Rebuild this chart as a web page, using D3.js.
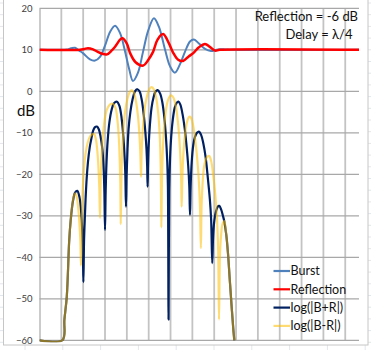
<!DOCTYPE html>
<html><head><meta charset="utf-8">
<script src="https://cdn.jsdelivr.net/npm/d3@7"></script>
<style>html,body{margin:0;padding:0;background:#fff;overflow:hidden;} svg{display:block;}</style>
</head><body>
<script>
// ---- data (x in grid units, y in dB) ----
const yTickValues = [20, 10, 0, -10, -20, -30, -40, -50, -60];
const xGridValues = [0,1,2,3,4,5,6,7,8,9,10,11,12,13,14];
const seriesNames = ["Burst", "Reflection", "log(|B+R|)", "log(|B-R|)"];
const noteLines = ["Reflection = -6 dB", "Delay = \u03bb/4"];

const burst = [[0,10],[1.10,10],[1.26,10.05],[1.45,10.35],[1.63,10.5],[1.82,9.8],[1.99,9.2],[2.31,7.7],[2.54,7.4],[2.77,8.3],[3.00,11.0],[3.23,14.3],[3.46,15.8],[3.69,14.0],[3.91,9.8],[4.10,5.5],[4.28,2.5],[4.51,4.5],[4.74,9.5],[4.97,14.5],[5.24,17.6],[5.47,15.5],[5.75,10],[5.98,6],[6.20,4.5],[6.43,6.5],[6.66,9.5],[6.89,12],[7.07,12.5],[7.30,11.5],[7.58,10.2],[7.85,9.7],[8.17,10.1],[8.49,10.1],[8.81,10],[14.63,10]];

const reflection = [[0,10],[1.85,10],[2.05,10.2],[2.22,10.4],[2.45,10.1],[2.63,9.6],[2.90,9.0],[3.09,8.9],[3.30,9.8],[3.46,10.75],[3.70,12.5],[3.80,12.8],[4.00,11.5],[4.15,9.2],[4.40,7.0],[4.75,6.2],[4.97,7.5],[5.20,9.5],[5.40,12.4],[5.66,13.8],[5.92,11.6],[6.11,9.4],[6.35,7.6],[6.57,7.3],[6.83,8.4],[7.04,9.2],[7.30,10.6],[7.58,11.4],[7.80,10.7],[8.04,9.8],[8.26,10],[14.63,10]];

const bPlusR = [[0,-60],[1.05,-60],[1.14,-55],[1.25,-49.4],[1.36,-36],[1.43,-31],[1.53,-26.5],[1.63,-24.4],[1.73,-24],[1.83,-25.5],[1.92,-30],[1.98,-37],[2.01,-46],
[2.04,-36],[2.08,-30],[2.11,-26],[2.16,-21],[2.22,-17],[2.30,-13.5],[2.36,-11.8],[2.45,-9.6],[2.53,-8.7],[2.63,-8.5],[2.72,-9.2],[2.80,-11],[2.88,-14],[2.94,-19],[2.97,-24],[3.00,-33.4],
[3.03,-24],[3.07,-17],[3.12,-12],[3.20,-7.5],[3.30,-4.5],[3.42,-2.8],[3.55,-2.5],[3.66,-3.5],[3.76,-6.5],[3.84,-11],[3.90,-16],[3.93,-20],[3.96,-27.8],
[3.99,-20],[4.03,-14],[4.08,-9],[4.16,-5],[4.26,-2],[4.37,0],[4.48,0.5],[4.58,0],[4.68,-2],[4.77,-5.5],[4.85,-10],[4.90,-14],[4.93,-18],[4.95,-23],
[4.97,-18],[5.00,-13],[5.05,-8.5],[5.13,-4],[5.22,-1.5],[5.32,0],[5.41,0.3],[5.52,-0.5],[5.62,-2.5],[5.71,-6],[5.79,-11],[5.85,-17],[5.88,-23],[5.91,-55],
[5.94,-24],[5.98,-16],[6.03,-11],[6.10,-7],[6.19,-4],[6.28,-2.8],[6.36,-2.5],[6.45,-3.2],[6.55,-5.5],[6.65,-9],[6.74,-13.5],[6.81,-18],[6.86,-23],[6.89,-29.8],
[6.92,-23],[6.97,-17],[7.04,-13],[7.12,-11],[7.21,-10],[7.30,-9.7],[7.40,-10.5],[7.50,-12.5],[7.61,-16],[7.71,-21],[7.80,-26],[7.86,-31],[7.91,-41.4],
[7.95,-35],[8.01,-31],[8.08,-29],[8.16,-27.8],[8.23,-27.6],[8.32,-28.5],[8.40,-30],[8.46,-31.3],[8.55,-34.5],[8.63,-39],[8.72,-46],[8.80,-52],[8.87,-57],[8.92,-60]];

const bMinusR = [[0,-60],[1.05,-60],[1.14,-55],[1.25,-49.4],[1.36,-36],[1.43,-31],[1.50,-27.5],[1.57,-25.3],[1.63,-24.6],[1.70,-25.3],[1.77,-28],[1.83,-32],[1.87,-36],[1.90,-42],
[1.93,-33],[1.97,-25],[2.03,-19],[2.11,-15],[2.20,-12.5],[2.30,-11],[2.40,-10.4],[2.50,-10.3],[2.58,-11.5],[2.65,-14.5],[2.70,-18.5],[2.74,-23.5],[2.77,-30.5],
[2.80,-22],[2.84,-16],[2.90,-11],[2.98,-7],[3.08,-4.5],[3.22,-3.2],[3.37,-3],[3.48,-4],[3.57,-7],[3.63,-11],[3.67,-16],[3.70,-22],[3.72,-32],
[3.75,-21],[3.79,-14],[3.85,-8.5],[3.93,-4.5],[4.02,-2],[4.12,-0.3],[4.22,0.3],[4.32,-0.3],[4.42,-2.5],[4.51,-6],[4.57,-10],[4.61,-14],[4.63,-17],[4.65,-20.6],
[4.67,-16],[4.71,-11],[4.77,-6.5],[4.85,-3],[4.94,-0.8],[5.04,0.6],[5.14,1.0],[5.24,0.4],[5.34,-1.5],[5.43,-5],[5.50,-10],[5.54,-16],[5.56,-22],[5.58,-32.8],
[5.61,-21],[5.65,-14],[5.71,-8.5],[5.79,-4.5],[5.88,-2.2],[5.97,-1.2],[6.05,-1],[6.14,-1.6],[6.24,-3.5],[6.33,-7],[6.41,-12],[6.46,-17],[6.49,-22],[6.51,-27.8],
[6.54,-21],[6.59,-15],[6.66,-10.5],[6.75,-7.5],[6.83,-6.3],[6.89,-6.1],[6.97,-6.8],[7.06,-9],[7.16,-13],[7.25,-18],[7.31,-23],[7.35,-28],[7.39,-37.8],
[7.42,-28],[7.47,-22],[7.54,-18],[7.63,-16.2],[7.70,-15.7],[7.77,-15.6],[7.86,-16.8],[7.95,-20],[8.05,-25],[8.13,-31],[8.18,-38],[8.22,-55],
[8.26,-40],[8.31,-35],[8.38,-32],[8.46,-31.3],[8.55,-34.5],[8.63,-39],[8.72,-46],[8.80,-52],[8.87,-57],[8.92,-60]];

const seriesData = [burst, reflection, bPlusR, bMinusR];
const seriesColors = ["#4f81bd", "#ff0000", "#002060", "#ffc000"];
const seriesWidths = [2, 2.5, 2.2, 2.2];
const seriesOpacity = [1, 1, 1, 0.55];

// ---- layout ----
const W = 371, H = 350;
const plot = {left: 39.5, right: 359, top: 8.3, bottom: 340.3};

const svg = d3.select("body").append("svg").attr("width", W).attr("height", H);

// spreadsheet background cells
const bg = svg.append("g");
for (let y = 3; y < H; y += 11.7) bg.append("line").attr("x1",0).attr("x2",W).attr("y1",y).attr("y2",y).attr("stroke","#e3e6ea").attr("stroke-width",1);
for (let x = 25; x < W; x += 37.8) bg.append("line").attr("x1",x).attr("x2",x).attr("y1",0).attr("y2",H).attr("stroke","#e3e6ea").attr("stroke-width",1);

// chart area
svg.append("rect").attr("x",3.5).attr("y",-2).attr("width",364.5).attr("height",347)
  .attr("fill","#fff").attr("stroke","#c6c6c6").attr("stroke-width",1);

const x = d3.scaleLinear().domain([0, 14.63]).range([plot.left, plot.right]);
const y = d3.scaleLinear().domain([-60, 20]).range([plot.bottom, plot.top]);

// gridlines
const grid = svg.append("g");
grid.selectAll(".vg").data(xGridValues.slice(1)).join("line")
  .attr("x1", d => x(d)).attr("x2", d => x(d))
  .attr("y1", plot.top).attr("y2", plot.bottom)
  .attr("stroke", "#c3c3c3").attr("stroke-width", 1.8);
grid.selectAll(".hg").data(yTickValues).join("line")
  .attr("x1", plot.left).attr("x2", plot.right)
  .attr("y1", d => y(d)).attr("y2", d => y(d))
  .attr("stroke", "#a8a8a8").attr("stroke-width", 1.2);

// y axis
const yAxis = d3.axisLeft(y).tickValues(yTickValues).tickSize(0).tickPadding(7);
const ya = svg.append("g").attr("transform", `translate(${plot.left},0)`).call(yAxis);
ya.select(".domain").attr("stroke", "#a8a8a8").attr("stroke-width", 1.2);
ya.selectAll("text").attr("font-family", "Lato, 'Open Sans', sans-serif").attr("font-size", 9.5).attr("fill", "#404040");

// dB label
svg.append("text").attr("x", 17).attr("y", 116).text("dB")
  .attr("font-family", "Lato, 'Open Sans', sans-serif").attr("font-size", 15).attr("fill", "#111");

// clip
svg.append("clipPath").attr("id","clip").append("rect")
  .attr("x", plot.left).attr("y", plot.top - 2).attr("width", plot.right - plot.left).attr("height", plot.bottom - plot.top + 4);

const line = d3.line().x(d => x(d[0])).y(d => y(d[1])).curve(d3.curveCatmullRom.alpha(0.5));
const lines = svg.append("g").attr("clip-path","url(#clip)");
seriesData.forEach((s, i) => {
  lines.append("path").datum(s).attr("d", line)
    .attr("fill","none").attr("stroke", seriesColors[i]).attr("stroke-width", seriesWidths[i])
    .attr("stroke-opacity", seriesOpacity[i]).attr("stroke-linejoin","round");
});

// note text
noteLines.forEach((t, i) => {
  svg.append("text").attr("x", i === 0 ? 358 : 352.5).attr("y", 21 + i * 17.8)
    .attr("text-anchor","end").text(t)
    .attr("font-family", "Lato, 'Open Sans', sans-serif").attr("font-size", 13).attr("fill", "#111");
});

// legend
const lg = svg.append("g");
seriesNames.forEach((n, i) => {
  const ly = 271 + i * 18.3;
  lg.append("line").attr("x1", 273.5).attr("x2", 290).attr("y1", ly).attr("y2", ly)
    .attr("stroke", seriesColors[i]).attr("stroke-width", 2.2).attr("stroke-opacity", seriesOpacity[i]);
  lg.append("text").attr("x", 290.5).attr("y", ly + 4.3).text(n)
    .attr("font-family", "Lato, 'Open Sans', sans-serif").attr("font-size", 12.5).attr("fill", "#111");
});
</script>
</body></html>
